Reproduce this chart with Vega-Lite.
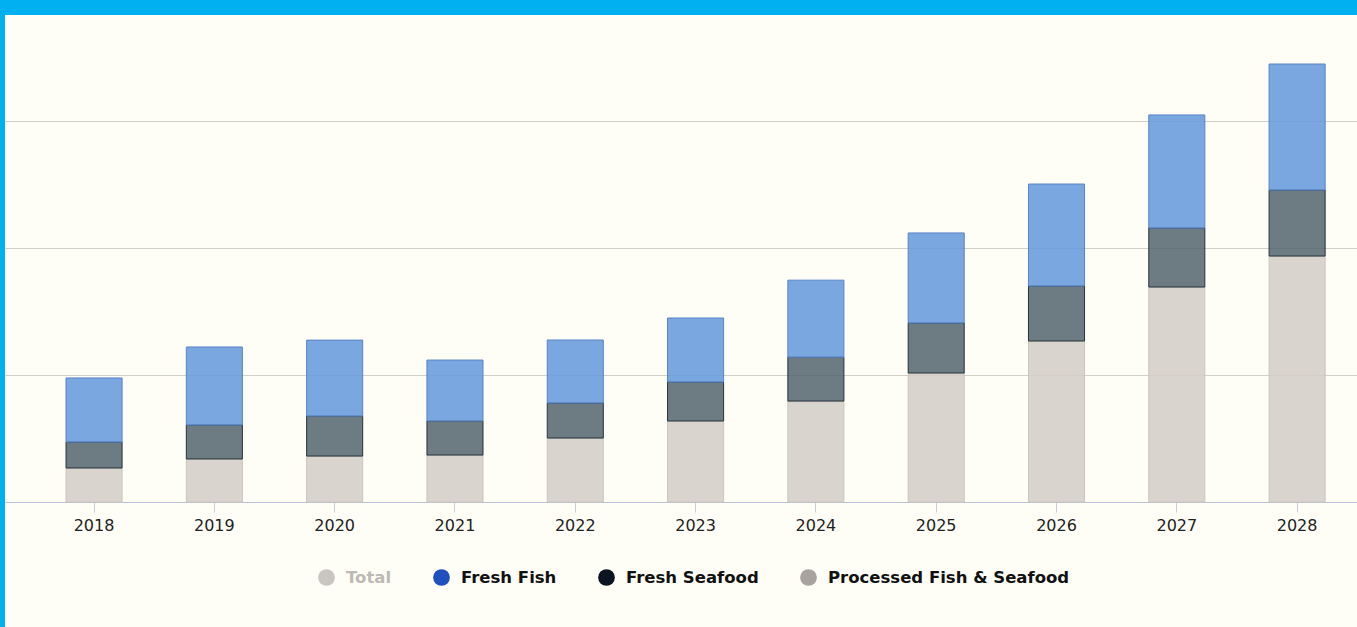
{
  "$schema": "https://vega.github.io/schema/vega-lite/v6.json",
  "width": 1357,
  "height": 627,
  "autosize": {"type": "fit", "contains": "padding"},
  "padding": {"top": 15, "left": 5, "right": 0, "bottom": 0},
  "background": "#00b0f0",
  "view": {"fill": "#fffef6", "stroke": null},
  "config": {"view": {"fill": "#fffef6", "stroke": null}},
  "layer": [
    {
      "data": {
        "values": [
          {"year": "2018", "series": "Processed Fish & Seafood", "value": 2.68},
          {"year": "2018", "series": "Fresh Seafood", "value": 2.05},
          {"year": "2018", "series": "Fresh Fish", "value": 5.04},
          {"year": "2019", "series": "Processed Fish & Seafood", "value": 3.39},
          {"year": "2019", "series": "Fresh Seafood", "value": 2.68},
          {"year": "2019", "series": "Fresh Fish", "value": 6.14},
          {"year": "2020", "series": "Processed Fish & Seafood", "value": 3.62},
          {"year": "2020", "series": "Fresh Seafood", "value": 3.15},
          {"year": "2020", "series": "Fresh Fish", "value": 5.98},
          {"year": "2021", "series": "Processed Fish & Seafood", "value": 3.7},
          {"year": "2021", "series": "Fresh Seafood", "value": 2.68},
          {"year": "2021", "series": "Fresh Fish", "value": 4.8},
          {"year": "2022", "series": "Processed Fish & Seafood", "value": 5.04},
          {"year": "2022", "series": "Fresh Seafood", "value": 2.76},
          {"year": "2022", "series": "Fresh Fish", "value": 4.96},
          {"year": "2023", "series": "Processed Fish & Seafood", "value": 6.38},
          {"year": "2023", "series": "Fresh Seafood", "value": 3.07},
          {"year": "2023", "series": "Fresh Fish", "value": 5.04},
          {"year": "2024", "series": "Processed Fish & Seafood", "value": 7.95},
          {"year": "2024", "series": "Fresh Seafood", "value": 3.46},
          {"year": "2024", "series": "Fresh Fish", "value": 6.06},
          {"year": "2025", "series": "Processed Fish & Seafood", "value": 10.16},
          {"year": "2025", "series": "Fresh Seafood", "value": 3.94},
          {"year": "2025", "series": "Fresh Fish", "value": 7.09},
          {"year": "2026", "series": "Processed Fish & Seafood", "value": 12.68},
          {"year": "2026", "series": "Fresh Seafood", "value": 4.33},
          {"year": "2026", "series": "Fresh Fish", "value": 8.03},
          {"year": "2027", "series": "Processed Fish & Seafood", "value": 16.93},
          {"year": "2027", "series": "Fresh Seafood", "value": 4.65},
          {"year": "2027", "series": "Fresh Fish", "value": 8.9},
          {"year": "2028", "series": "Processed Fish & Seafood", "value": 19.37},
          {"year": "2028", "series": "Fresh Seafood", "value": 5.2},
          {"year": "2028", "series": "Fresh Fish", "value": 9.92}
        ]
      },
      "mark": {"type": "bar", "fillOpacity": 0.85, "strokeWidth": 1},
      "encoding": {
        "x": {
          "field": "year",
          "type": "ordinal",
          "scale": {"paddingInner": 0.534, "paddingOuter": 0.386, "align": 0.657},
          "axis": {
            "title": null,
            "labelAngle": 0,
            "offset": -125,
            "domainColor": "#b9c2d6",
            "tickColor": "#c6cddb",
            "tickSize": 10,
            "labelPadding": 5,
            "labelFont": "DejaVu Sans",
            "labelFontSize": 16,
            "labelColor": "#222222",
            "grid": false
          }
        },
        "y": {
          "field": "value",
          "type": "quantitative",
          "stack": "zero",
          "scale": {"domain": [-9.84, 38.35], "nice": false, "zero": false},
          "axis": {
            "title": null,
            "labels": false,
            "ticks": false,
            "domain": false,
            "grid": true,
            "values": [10, 20, 30],
            "gridColor": "#d3d0c8",
            "gridWidth": 1
          }
        },
        "fill": {
          "field": "series",
          "type": "nominal",
          "scale": {
            "domain": ["Fresh Fish", "Fresh Seafood", "Processed Fish & Seafood"],
            "range": ["#6498dc", "#54646f", "#d4cdc8"]
          },
          "legend": null
        },
        "stroke": {
          "field": "series",
          "type": "nominal",
          "scale": {
            "domain": ["Fresh Fish", "Fresh Seafood", "Processed Fish & Seafood"],
            "range": ["#5783c6", "#27343d", "#cbc4be"]
          },
          "legend": null
        },
        "order": {"field": "series", "sort": "descending"}
      }
    },
    {
      "data": {
        "values": [
          {"series": "Total"},
          {"series": "Fresh Fish"},
          {"series": "Fresh Seafood"},
          {"series": "Processed Fish & Seafood"}
        ]
      },
      "mark": {"type": "point", "filled": true, "opacity": 0},
      "encoding": {
        "color": {
          "field": "series",
          "type": "nominal",
          "scale": {
            "domain": ["Total", "Fresh Fish", "Fresh Seafood", "Processed Fish & Seafood"],
            "range": ["#c9c5c1", "#1f50bd", "#0a1521", "#a8a39e"]
          },
          "legend": {
            "orient": "none",
            "legendX": 313,
            "legendY": 554,
            "direction": "horizontal",
            "title": null,
            "symbolType": "circle",
            "symbolSize": 280,
            "symbolOpacity": 1,
            "symbolStrokeWidth": 0,
            "labelFont": "DejaVu Sans",
            "labelFontSize": 16.5,
            "labelFontWeight": "bold",
            "labelColor": {"expr": "datum.value == 'Total' ? '#bdb9b5' : '#111111'"},
            "labelOffset": 11,
            "columnPadding": 41,
            "labelLimit": 400
          }
        }
      }
    }
  ]
}
